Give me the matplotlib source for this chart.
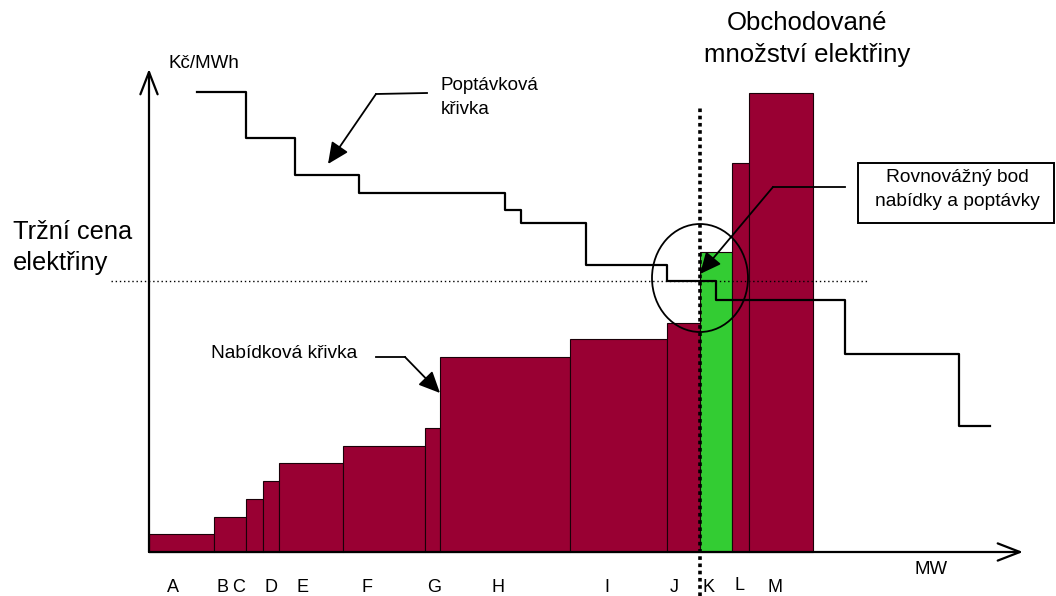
import matplotlib.pyplot as plt
from matplotlib.patches import Ellipse, Rectangle
import numpy as np

plt.rcParams['font.family'] = ['Liberation Sans', 'DejaVu Sans']

# nabidky vyrobcu: velikost bloku (MW) a nabidkova cena (Kc/MWh)
offers = ['A', 'B', 'C', 'D', 'E', 'F', 'G', 'H', 'I', 'J', 'K', 'L', 'M']
offer_mw = [65, 32, 17, 16, 64, 82, 15, 130, 97, 33, 32, 17, 64]
offer_price = [18, 35, 53, 71, 89, 106, 124, 195, 213, 229, 300, 389, 459]
offer_label_x = [24, 73, 90, 122, 154, 218, 285, 349, 458, 525, 560, 590, 626]

# poptavkova krivka: zacatky schodu (MW) a ceny
demand_mw = [48, 97, 146, 210, 356, 372, 437, 518, 567, 696, 810, 841]
demand_price = [460, 414, 377, 359, 342, 329, 287, 271, 252, 198, 126, 126]

market_price = 271
traded_mw = 551
marginal_offer = 'K'

MAROON = '#990033'
GREEN = '#33cc33'

fig = plt.figure(figsize=(10.56, 5.96), dpi=100)
ax = fig.add_axes([0, 0, 1, 1])
ax.set_xlim(-149, 907)
ax.set_ylim(-44, 552)
ax.axis('off')

# bloky nabidek
lefts = np.concatenate([[0], np.cumsum(offer_mw)[:-1]])
colors = [GREEN if o == marginal_offer else MAROON for o in offers]
ax.bar(lefts, offer_price, width=offer_mw, align='edge', color=colors,
       edgecolor='#1a0008', linewidth=0.8, zorder=2)
for name, x in zip(offers, offer_label_x):
    dy = 2 if name == 'L' else 0
    ax.text(x, -35 + dy, name, ha='center', va='center', fontsize=13)

# poptavka
ax.step(demand_mw, demand_price, where='post', color='black', lw=1.6, zorder=4)

# trzni cena a zobchodovane mnozstvi
ax.plot([-38, 718], [market_price, market_price], color='black', lw=1.0,
        linestyle=(0, (1, 2)), zorder=5)
ax.plot([traded_mw, traded_mw], [-44, 445], color='black', lw=2.6,
        linestyle=(0, (1, 1)), dash_capstyle='butt', zorder=5)

# osy se sipkami
axis_arrow = dict(arrowstyle='->,head_length=0.8,head_width=0.31',
                  mutation_scale=20, color='black', lw=1.6, shrinkA=0, shrinkB=0)
ax.annotate('', xy=(874, 0), xytext=(0, 0), arrowprops=axis_arrow, zorder=6)
ax.annotate('', xy=(0, 483), xytext=(0, 0), arrowprops=axis_arrow, zorder=6)
ax.text(55, 489, 'Kč/MWh', ha='center', va='center', fontsize=13.5)
ax.text(782, -17, 'MW', ha='center', va='center', fontsize=13.4)


def pointer(pts):
    xs, ys = zip(*pts)
    ax.plot(xs[:-1], ys[:-1], color='black', lw=1.3, zorder=7)
    ax.annotate('', xy=pts[-1], xytext=pts[-2], zorder=7,
                arrowprops=dict(arrowstyle='-|>,head_length=0.65,head_width=0.3',
                                mutation_scale=20, color='black', lw=1.3,
                                shrinkA=0, shrinkB=0))


# popisky
pointer([(278, 459), (227, 458), (179, 388)])
ax.text(292, 466, 'Poptávková', ha='left', va='center', fontsize=13.5)
ax.text(292, 442, 'křivka', ha='left', va='center', fontsize=13.5)

pointer([(227, 195), (256, 195), (291, 159)])
ax.text(62, 198, 'Nabídková křivka', ha='left', va='center', fontsize=13.8)

pointer([(696, 365), (624, 365), (551, 278)])
ax.add_patch(Rectangle((709, 329), 196, 60, fill=False, lw=1.4,
                       edgecolor='black', zorder=7))
ax.text(808, 374, 'Rovnovážný bod', ha='center', va='center', fontsize=13.8)
ax.text(808, 350, 'nabídky a poptávky', ha='center', va='center', fontsize=13.8)

ax.add_patch(Ellipse((551, 274), 96, 108, fill=False, lw=1.3,
                     edgecolor='black', zorder=6))

ax.text(-136, 320, 'Tržní cena', ha='left', va='center', fontsize=18.3)
ax.text(-136, 289, 'elektřiny', ha='left', va='center', fontsize=18.3)

ax.text(658, 529, 'Obchodované', ha='center', va='center', fontsize=18.5)
ax.text(658, 497, 'množství elektřiny', ha='center', va='center', fontsize=18.5)

fig.savefig('out.png', dpi=100)
